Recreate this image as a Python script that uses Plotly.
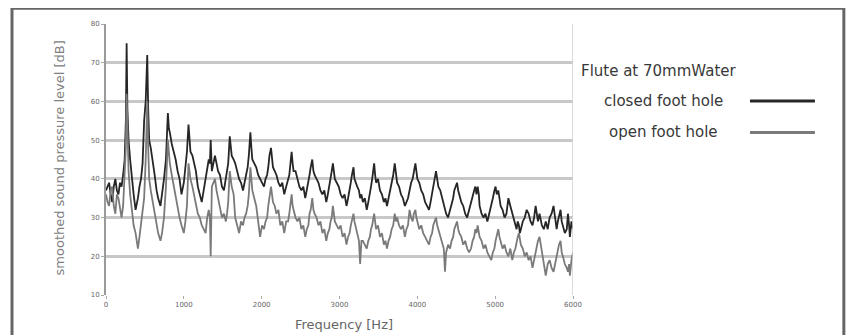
import plotly.graph_objects as go

freq_hz = [0, 20, 40, 60, 80, 100, 120, 140, 160, 180, 200, 220, 240, 255, 265, 275, 290, 310, 330, 355,
           380, 410, 430, 450, 470, 490, 510, 530, 542, 555, 575, 600, 625, 650, 670, 700, 720, 745, 770, 795,
           808, 820, 845, 870, 895, 920, 945, 970, 985, 1000, 1020, 1040, 1060, 1072, 1085, 1110, 1130, 1155, 1180, 1205,
           1230, 1255, 1280, 1300, 1320, 1335, 1345, 1360, 1380, 1400, 1420, 1440, 1465, 1490, 1515, 1540, 1555, 1570, 1590, 1603,
           1615, 1640, 1660, 1685, 1710, 1735, 1760, 1780, 1800, 1820, 1835, 1855, 1868, 1880, 1905, 1930, 1955, 1980, 2005, 2030,
           2050, 2070, 2085, 2100, 2120, 2133, 2145, 2168,
           2190, 2215, 2240, 2265, 2290, 2315, 2340, 2355, 2370, 2385, 2398, 2410, 2435, 2460, 2485, 2510, 2535, 2560, 2580, 2600,
           2615, 2630, 2650, 2665, 2680, 2705, 2730, 2755, 2780, 2805, 2830, 2850, 2870, 2885, 2900, 2915, 2928, 2940, 2965, 2990,
           3015, 3040, 3065, 3090, 3110, 3130, 3145, 3160, 3180, 3192, 3205, 3228, 3250, 3265, 3282, 3300, 3325, 3350, 3370, 3390,
           3405, 3420, 3445, 3458, 3470, 3495, 3520, 3545, 3570, 3590, 3610, 3630, 3650, 3670, 3690, 3710, 3725, 3740, 3765, 3790,
           3815, 3840, 3860, 3880, 3900, 3920, 3940, 3955, 3975, 3988, 4000, 4025, 4050, 4075, 4100, 4125, 4150, 4170, 4190, 4205,
           4220, 4240, 4255, 4270, 4295, 4320, 4340, 4355, 4370, 4395, 4420, 4440, 4460, 4475, 4490, 4510, 4525, 4540, 4565, 4590,
           4615, 4640, 4665, 4690, 4710, 4730, 4745, 4760, 4775, 4790, 4800, 4825, 4850, 4875, 4900, 4925, 4950, 4970, 4990, 5005,
           5020, 5040, 5055, 5070, 5095, 5120, 5145, 5170, 5195, 5220, 5240, 5260, 5275, 5290, 5305, 5318, 5330, 5355, 5380, 5405,
           5430, 5455, 5480, 5500, 5520, 5535, 5550, 5570, 5585, 5600, 5625, 5650, 5675, 5700, 5725, 5750, 5770, 5790, 5805, 5820,
           5840, 5855, 5870, 5895, 5920, 5935, 5950, 5960, 5980, 6000]

closed_db = [37, 38, 39, 36, 34, 38, 40, 37, 36, 39, 38, 41, 45, 55, 75, 58, 50, 45, 40, 36,
             32, 35, 38, 40, 44, 55, 60, 72, 58, 50, 48, 45, 41, 37, 35, 33, 36, 40, 45, 57,
             53, 52, 49, 47, 45, 42, 40, 36, 38, 39, 43, 47, 54, 50, 47, 46, 44, 42, 38, 36,
             34, 37, 40, 42, 45, 44, 50, 42, 44, 46, 44, 42, 41, 38, 37, 40, 42, 44, 51, 48,
             46, 45, 44, 42, 40, 39, 37, 39, 41, 43, 46, 52, 48, 45, 44, 43, 41, 40, 39, 38,
             40, 41, 43, 46, 48, 45, 43, 42,
             41, 39, 38, 39, 36, 38, 40, 41, 44, 47, 44, 42, 42, 40, 38, 37, 38, 35, 37, 39,
             41, 43, 45, 42, 41, 40, 39, 37, 36, 37, 34, 36, 38, 40, 42, 44, 41, 40, 39, 38,
             36, 35, 36, 33, 35, 37, 39, 41, 43, 40, 39, 38, 37, 35, 36, 34, 35, 32, 34, 36,
             38, 40, 44, 41, 39, 40, 37, 36, 34, 35, 33, 35, 37, 39, 41, 44, 41, 39, 38, 36,
             35, 33, 34, 35, 37, 39, 40, 42, 44, 42, 40, 39, 37, 36, 34, 33, 32, 34, 36, 38,
             40, 42, 40, 38, 37, 35, 33, 32, 31, 30, 32, 34, 35, 37, 38, 39, 37, 36, 34, 33,
             31, 30, 32, 34, 36, 37, 38, 36, 38, 36, 33, 31, 30, 31, 29, 31, 33, 35, 37, 38,
             36, 37, 35, 33, 32, 30, 31, 35, 33, 31, 29, 28, 27, 29, 28, 26, 27, 29, 30, 32,
             31, 29, 28, 30, 33, 31, 29, 31, 29, 28, 27, 29, 27, 30, 31, 33, 30, 27, 29, 30,
             32, 29, 28, 26, 27, 31, 28, 25, 29, 27]

open_db = [36, 34, 33, 37, 38, 33, 31, 36, 35, 32, 30, 33, 40, 48, 62, 50, 42, 36, 32, 28,
           26, 22, 25, 28, 31, 35, 45, 60, 48, 40, 37, 34, 31, 28, 26, 24, 26, 30, 38, 50,
           46, 44, 41, 38, 35, 33, 30, 28, 27, 26, 29, 33, 44, 42, 40, 38, 36, 33, 31, 30,
           28, 27, 26, 30, 32, 30, 20, 38, 39, 40, 37, 35, 32, 30, 31, 29, 31, 34, 42, 40,
           38, 36, 30, 28, 26, 29, 28, 30, 31, 33, 36, 43, 40, 37, 35, 33, 29, 25, 28, 27,
           29, 30, 33, 35, 38, 36, 34, 33,
           31, 32, 28, 29, 26, 29, 29, 31, 33, 36, 33, 32, 30, 29, 30, 27, 28, 25, 27, 28,
           31, 32, 35, 32, 31, 30, 28, 29, 26, 27, 24, 26, 27, 29, 30, 33, 30, 29, 28, 27,
           28, 25, 26, 23, 25, 26, 28, 29, 31, 29, 28, 26, 24, 18, 24, 24, 23, 22, 24, 25,
           27, 28, 31, 29, 27, 28, 25, 26, 23, 24, 22, 24, 25, 27, 28, 31, 29, 30, 28, 27,
           28, 25, 27, 28, 32, 30, 29, 31, 32, 30, 29, 27, 28, 26, 25, 24, 23, 25, 26, 28,
           29, 30, 28, 27, 25, 24, 22, 16, 21, 23, 22, 24, 25, 27, 28, 29, 27, 26, 25, 23,
           24, 22, 21, 22, 24, 25, 27, 26, 28, 26, 25, 24, 22, 23, 21, 20, 19, 21, 22, 24,
           25, 27, 25, 24, 22, 23, 21, 20, 22, 19, 21, 22, 24, 25, 26, 24, 23, 22, 20, 21,
           19, 20, 17, 19, 21, 23, 24, 25, 23, 22, 18, 15, 18, 19, 17, 16, 18, 20, 22, 23,
           24, 21, 20, 18, 17, 16, 18, 15, 19, 21]

series_names = ["closed foot hole", "open foot hole"]
legend_title = "Flute at 70mmWater"
x_ticks = [0, 1000, 2000, 3000, 4000, 5000, 6000]
y_ticks = [10, 20, 30, 40, 50, 60, 70, 80]

n = min(len(freq_hz), len(closed_db), len(open_db))

dark = "#262626"
gray = "#7a7a7a"
FONT = "DejaVu Sans, sans-serif"

fig = go.Figure()
fig.add_trace(go.Scatter(x=freq_hz[:n], y=closed_db[:n], mode="lines", name=series_names[0],
                         line=dict(color=dark, width=1.8), showlegend=False))
fig.add_trace(go.Scatter(x=freq_hz[:n], y=open_db[:n], mode="lines", name=series_names[1],
                         line=dict(color=gray, width=1.8), showlegend=False))

# the page body adds an 8px offset; compensate so the plot area is at (106..573, 20..295)
fig.update_layout(
    width=848, height=327,
    margin=dict(l=98, r=283, t=12, b=40),
    paper_bgcolor="white", plot_bgcolor="white",
    font=dict(family=FONT, color="#666"),
    xaxis=dict(range=[0, 6000], tickvals=x_ticks, ticks="outside", ticklen=3, tickcolor="#aaa",
               showgrid=False, zeroline=False, showline=False,
               tickfont=dict(size=7, color="#666"), fixedrange=True),
    yaxis=dict(range=[10, 80], tickvals=y_ticks, ticks="outside", ticklen=3, tickcolor="#aaa",
               showgrid=True, gridcolor="#c8c8c8", gridwidth=2.5, zeroline=False,
               showline=True, linecolor="#9a9a9a", linewidth=2,
               tickfont=dict(size=7, color="#666"), fixedrange=True),
)

# right border of the plot area
fig.add_shape(type="line", xref="x", yref="y", x0=6000, x1=6000, y0=10, y1=80,
              line=dict(color="#cfcfcf", width=1.5))

# outer frame
fig.add_shape(type="rect", xref="paper", yref="paper", x0=-0.2013, x1=1.580, y0=-0.2, y1=1.058,
              line=dict(color="#666", width=3), fillcolor="rgba(0,0,0,0)", layer="above")

# axis titles
fig.add_annotation(text="smoothed sound pressure level [dB]", xref="paper", yref="paper",
                   x=-0.1, y=0.505, textangle=-90, showarrow=False,
                   xanchor="center", yanchor="middle",
                   font=dict(size=13, color="#808080", family=FONT))
fig.add_annotation(text="Frequency [Hz]", xref="paper", yref="paper",
                   x=0.51, y=-0.109, showarrow=False, xanchor="center", yanchor="middle",
                   font=dict(size=13, color="#666", family=FONT))

# legend
fig.add_annotation(text=legend_title, xref="paper", yref="paper", x=1.013, y=0.825,
                   xanchor="left", yanchor="middle", showarrow=False,
                   font=dict(size=15, color="#383838", family=FONT))
leg_y = [0.716, 0.600]
for name, col, yy in zip(series_names, [dark, gray], leg_y):
    fig.add_annotation(text=name, xref="paper", yref="paper", x=1.193, y=yy,
                       xanchor="center", yanchor="middle", showarrow=False,
                       font=dict(size=15, color="#383838", family=FONT))
    fig.add_shape(type="line", xref="paper", yref="paper", x0=1.379, x1=1.518, y0=yy, y1=yy,
                  line=dict(color=col, width=3))

fig.write_html("out.html")
